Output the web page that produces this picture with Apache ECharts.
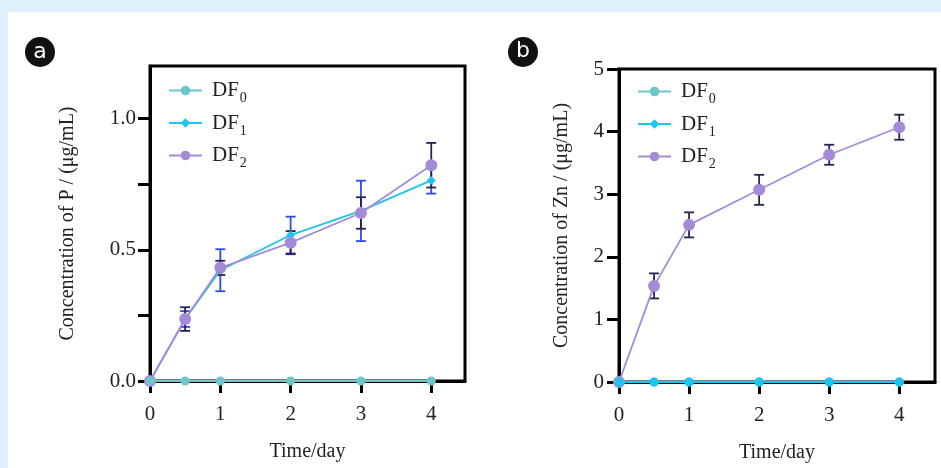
<!DOCTYPE html>
<html>
<head>
<meta charset="utf-8">
<script src="https://cdn.jsdelivr.net/npm/echarts@6/dist/echarts.min.js"></script>
<style>
html,body{margin:0;padding:0;background:#dff0fa;}
#c{width:941px;height:468px;}
</style>
</head>
<body>
<div id="c"></div>
<script>
// ---- data ----
const days = [0, 0.5, 1, 2, 3, 4];
const xTickValues = [0, 1, 2, 3, 4];
const seriesNames = ['DF0', 'DF1', 'DF2'];

// Panel a: Concentration of P (µg/mL)
const P_DF0 = [0, 0, 0, 0, 0, 0];
const P_DF1 = [0, 0.236, 0.422, 0.556, 0.648, 0.764];
const P_DF1_err = [0, 0.03, 0.08, 0.07, 0.115, 0.05];
const P_DF2 = [0, 0.236, 0.431, 0.527, 0.64, 0.822];
const P_DF2_err = [0, 0.045, 0.027, 0.044, 0.06, 0.085];
const P_yTicks = [0, 0.25, 0.5, 0.75, 1.0];
const P_yLabels = [0, 0.5, 1.0];

// Panel b: Concentration of Zn (µg/mL)
const Zn_DF0 = [0, 0, 0, 0, 0, 0];
const Zn_DF1 = [0, 0, 0, 0, 0, 0];
const Zn_DF2 = [0, 1.535, 2.51, 3.07, 3.63, 4.07];
const Zn_DF2_err = [0, 0.2, 0.2, 0.24, 0.16, 0.2];
const Zn_yTicks = [0, 1, 2, 3, 4, 5];

// ---- styles ----
const C0 = '#6ec6c9', C1 = '#1cc4ef', C2 = '#a48bd8';
const E1 = '#2a4fe0', E2 = '#2b2150';
const FONT = '"Liberation Serif", "DejaVu Serif", serif';

const pts = (ys) => days.map((d, i) => [d, ys[i]]);
const errPts = (ys, es) => days.map((d, i) => [d, ys[i], es[i]]);

function errSeries(name, ys, es, color, xi) {
  return {
    name: name, type: 'custom', xAxisIndex: xi, yAxisIndex: xi, z: 1,
    data: errPts(ys, es), encode: {x: 0, y: 1},
    renderItem: function (params, api) {
      const x = api.value(0), y = api.value(1), e = api.value(2);
      if (!e) return null;
      const t = api.coord([x, y + e]), b = api.coord([x, y - e]);
      const hw = 5, st = {stroke: color, lineWidth: 1.8};
      return {type: 'group', children: [
        {type: 'line', shape: {x1: t[0], y1: t[1], x2: b[0], y2: b[1]}, style: st},
        {type: 'line', shape: {x1: t[0] - hw, y1: t[1], x2: t[0] + hw, y2: t[1]}, style: st},
        {type: 'line', shape: {x1: b[0] - hw, y1: b[1], x2: b[0] + hw, y2: b[1]}, style: st}
      ]};
    }
  };
}

function lineSeries(name, ys, color, symbol, size, xi, z) {
  return {
    name: name, type: 'line', xAxisIndex: xi, yAxisIndex: xi, z: z,
    data: pts(ys), symbol: symbol, symbolSize: size,
    lineStyle: {color: color, width: 1.8}, itemStyle: {color: color},
    showSymbol: true, animation: false
  };
}

function xAxis(gi, max) {
  return {
    type: 'value', gridIndex: gi, min: 0, max: max,
    name: 'Time/day', nameLocation: 'middle', nameGap: 61,
    nameTextStyle: {fontFamily: FONT, fontSize: 20, color: '#222'},
    axisLine: {show: true, lineStyle: {color: '#000', width: 3}},
    axisTick: {show: true, inside: false, length: 12, lineStyle: {color: '#000', width: 3}, customValues: xTickValues},
    axisLabel: {fontFamily: FONT, fontSize: 21, color: '#222', margin: 23, customValues: xTickValues},
    splitLine: {show: false}
  };
}

const legendFmt = (n) => 'DF{s|' + n.slice(2) + '}';
function legend(left, top) {
  return {
    orient: 'vertical', left: left, top: top, data: seriesNames,
    itemWidth: 33, itemHeight: 12, itemGap: 6, formatter: legendFmt,
    selectedMode: false,
    textStyle: {fontFamily: FONT, fontSize: 21, color: '#222', padding: [0, 0, 0, 5], lineHeight: 23,
      rich: {s: {fontFamily: FONT, fontSize: 14, color: '#222', padding: [16, 0, 0, 1]}}}
  };
}

const chart = echarts.init(document.getElementById('c'), null, {renderer: 'canvas'});
chart.setOption({
  backgroundColor: '#dff0fa',
  animation: false,
  graphic: [
    {type: 'rect', left: 8, top: 12, shape: {width: 933, height: 456}, style: {fill: '#fff'}, z: -10, silent: true},
    {type: 'circle', shape: {cx: 40, cy: 52, r: 15}, style: {fill: '#111'}},
    {type: 'text', x: 40, y: 52, style: {text: 'a', fill: '#fff', font: '22px "DejaVu Sans", sans-serif', align: 'center', verticalAlign: 'middle'}},
    {type: 'circle', shape: {cx: 523, cy: 52, r: 15}, style: {fill: '#111'}},
    {type: 'text', x: 523, y: 51, style: {text: 'b', fill: '#fff', font: '22px "DejaVu Sans", sans-serif', align: 'center', verticalAlign: 'middle'}}
  ],
  grid: [
    {left: 150, top: 66, width: 315, height: 315, show: true, borderColor: '#000', borderWidth: 3, backgroundColor: 'transparent'},
    {left: 619, top: 69, width: 316, height: 315, show: true, borderColor: '#000', borderWidth: 3, backgroundColor: 'transparent'}
  ],
  legend: [legend(163, 74), legend(632, 75)],
  xAxis: [xAxis(0, 4.48), xAxis(1, 4.51)],
  yAxis: [
    {
      type: 'value', gridIndex: 0, min: 0, max: 1.2,
      name: 'Concentration of P / (μg/mL)', nameLocation: 'middle', nameGap: 72, nameRotate: 90,
      nameTextStyle: {fontFamily: FONT, fontSize: 20, color: '#222'},
      axisLine: {show: true, lineStyle: {color: '#000', width: 3}},
      axisTick: {show: true, length: 12, lineStyle: {color: '#000', width: 3}, customValues: P_yTicks},
      axisLabel: {fontFamily: FONT, fontSize: 21, color: '#222', margin: 14, customValues: P_yLabels,
        formatter: (v) => v.toFixed(1)},
      splitLine: {show: false}
    },
    {
      type: 'value', gridIndex: 1, min: 0, max: 5, interval: 1,
      name: 'Concentration of Zn / (μg/mL)', nameLocation: 'middle', nameGap: 47, nameRotate: 90,
      nameTextStyle: {fontFamily: FONT, fontSize: 20, color: '#222'},
      axisLine: {show: true, lineStyle: {color: '#000', width: 3}},
      axisTick: {show: true, length: 12, lineStyle: {color: '#000', width: 3}, customValues: Zn_yTicks},
      axisLabel: {fontFamily: FONT, fontSize: 21, color: '#222', margin: 15, customValues: Zn_yTicks},
      splitLine: {show: false}
    }
  ],
  series: [
    errSeries('errP1', P_DF1, P_DF1_err, E1, 0),
    errSeries('errP2', P_DF2, P_DF2_err, E2, 0),
    lineSeries('DF1', P_DF1, C1, 'diamond', 9, 0, 3),
    lineSeries('DF2', P_DF2, C2, 'circle', 12, 0, 4),
    lineSeries('DF0', P_DF0, C0, 'circle', 9, 0, 5),
    errSeries('errZn2', Zn_DF2, Zn_DF2_err, E2, 1),
    lineSeries('DF2', Zn_DF2, C2, 'circle', 12, 1, 3),
    lineSeries('DF0', Zn_DF0, C0, 'circle', 9, 1, 4),
    lineSeries('DF1', Zn_DF1, C1, 'circle', 9, 1, 5)
  ]
});
</script>
</body>
</html>
